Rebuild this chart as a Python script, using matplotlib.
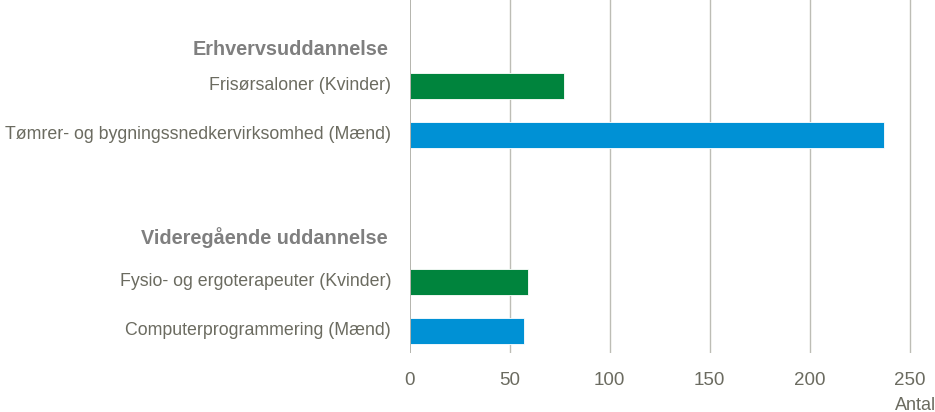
import numpy as np
import matplotlib.pyplot as plt
from matplotlib.transforms import blended_transform_factory

# data
groups = ["Erhvervsuddannelse", "Videregående uddannelse"]
labels = ["Frisørsaloner (Kvinder)",
          "Tømrer- og bygningssnedkervirksomhed (Mænd)",
          "Fysio- og ergoterapeuter (Kvinder)",
          "Computerprogrammering (Mænd)"]
values = [77, 237, 59, 57]
colors = ["#00843d", "#0091d5", "#00843d", "#0091d5"]
xticks = [0, 50, 100, 150, 200, 250]

rows = [1, 2, 5, 6]
group_rows = [0.25, 4.1]

fam = ["Liberation Sans Narrow", "Liberation Sans", "DejaVu Sans"]
txt_col = "#6b6b60"
head_col = "#7f7f7f"

fig = plt.figure(figsize=(9.35, 4.12), dpi=100)
ax = fig.add_axes([409.5/935, 59/412, (932-409.5)/935, 353/412])

ax.barh(rows, values, height=0.53, color=colors, edgecolor="white", linewidth=0.6, zorder=3)
ax.set_xlim(0, (932-409.5)/2)
ax.set_ylim(6.45, -0.755)

ax.set_xticks(xticks)
ax.set_xticklabels([str(t) for t in xticks], family=fam, fontsize=13.5, color=txt_col)
ax.tick_params(axis="x", length=0, pad=14)
ax.set_yticks([])
for t in xticks[1:]:
    ax.axvline(t, color="#bdbdb5", lw=1, zorder=1)
ax.axvline(0, color="#a8a8a0", lw=1.2, zorder=4)
for s in ax.spines.values():
    s.set_visible(False)

# labels placed in figure x, data y
tr = blended_transform_factory(fig.transFigure, ax.transData)
for r, lab in zip(rows, labels):
    ax.text(391/935, r, lab, transform=tr, ha="right", va="center",
            family=fam, fontsize=12.8, color=txt_col)
for r, g in zip(group_rows, groups):
    ax.text(388/935, r, g, transform=tr, ha="right", va="center",
            family=fam, fontsize=14.3, fontweight="bold", color=head_col)

fig.text(916/935, 1 - 405/412, "Antal", ha="center", va="center", family=fam,
         fontsize=13, color=txt_col)

fig.savefig("out.png", dpi=100)
